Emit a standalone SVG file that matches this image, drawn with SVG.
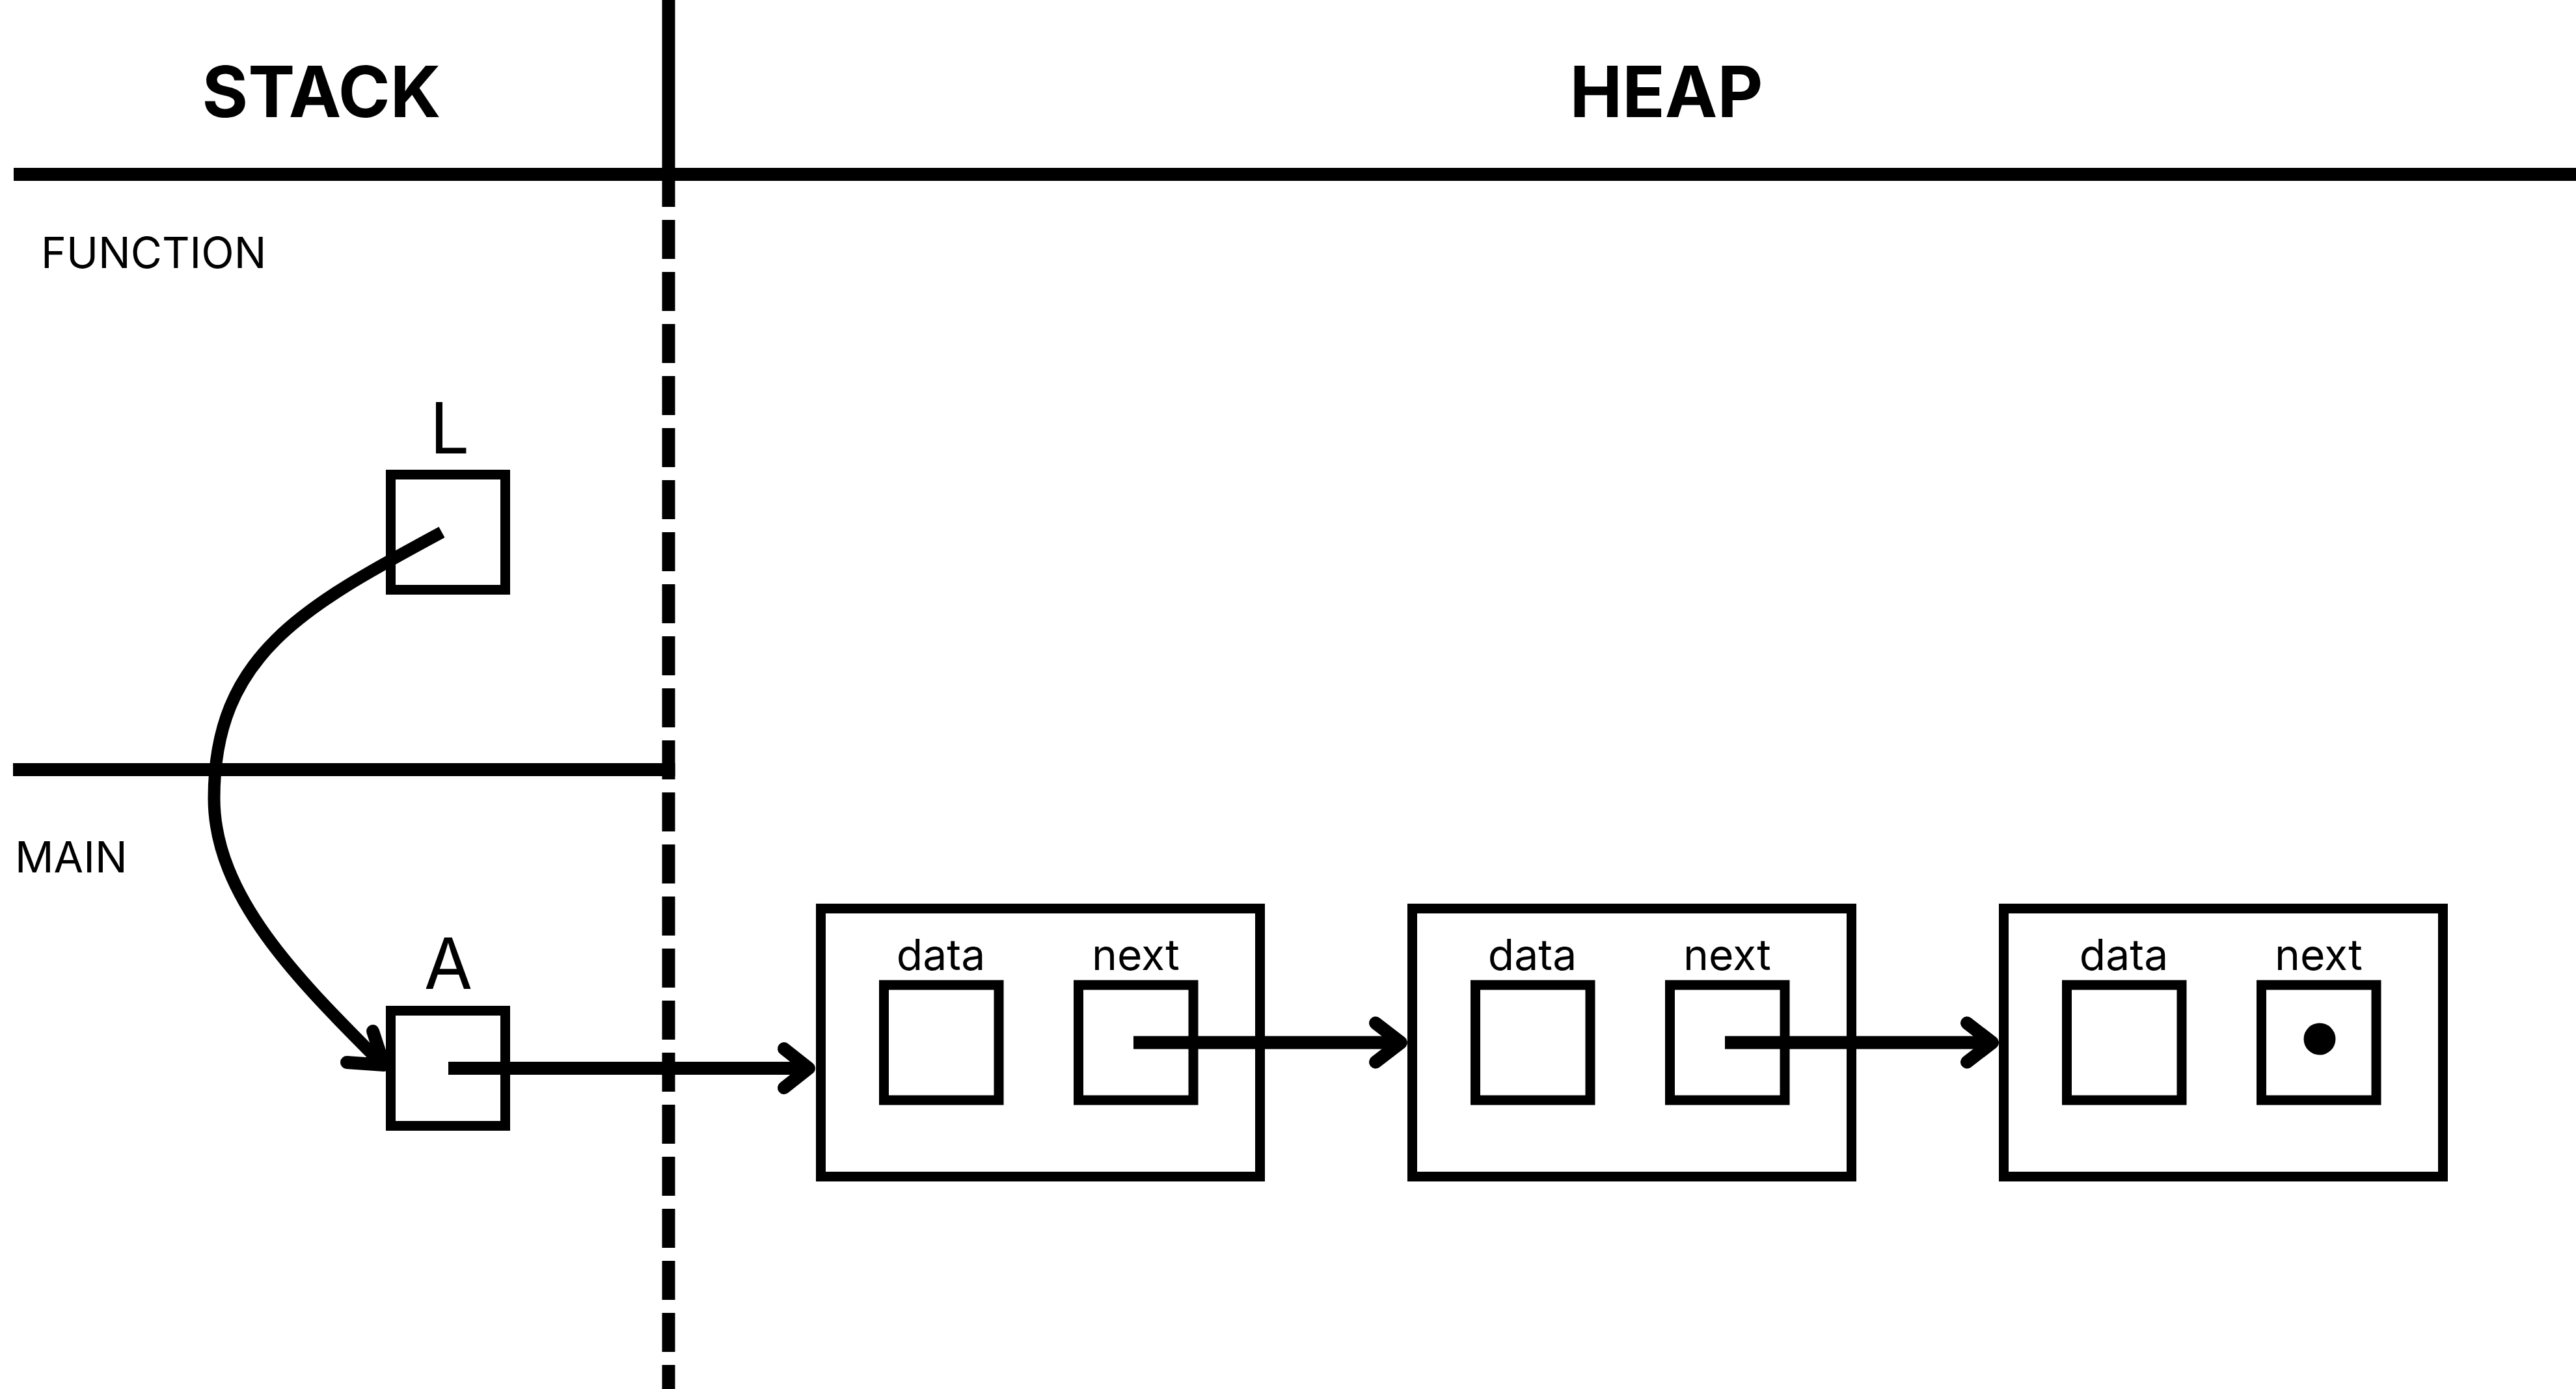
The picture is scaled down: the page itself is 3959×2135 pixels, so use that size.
<svg xmlns="http://www.w3.org/2000/svg" width="3959" height="2135" viewBox="0 0 3959 2135">
  <style>
    .hdr { font-family: Inter, "Liberation Sans", sans-serif; font-weight: 700; font-size: 108px; fill: #000; text-anchor: middle; }
    .sec { font-family: Inter, "Liberation Sans", sans-serif; font-size: 66px; fill: #000; }
    .var { font-family: Inter, "Liberation Sans", sans-serif; font-size: 108px; fill: #000; text-anchor: middle; }
    .fld { font-family: Inter, "Liberation Sans", sans-serif; font-size: 66px; fill: #000; text-anchor: middle; }
    .box { fill: none; stroke: #000; stroke-width: 15; }
    .div { stroke: #000; stroke-width: 20; fill: none; }
    .link { stroke: #000; stroke-width: 20; fill: none; }
    .head { stroke: #000; stroke-width: 20; fill: none; stroke-linecap: round; stroke-linejoin: round; }
  </style>
  <rect width="3959" height="2135" fill="#fff"/>

  <g id="layout">
    <line class="div" x1="21" y1="268" x2="3959" y2="268"/>
    <line class="div" x1="1027.5" y1="0" x2="1027.5" y2="268"/>
    <line class="div" x1="1027.5" y1="258" x2="1027.5" y2="2135" stroke-dasharray="60 20"/>
    <line class="div" x1="20" y1="1183" x2="1037.5" y2="1183"/>
    <text class="hdr" x="494" y="180">STACK</text>
    <text class="hdr" x="2561" y="180">HEAP</text>
    <text class="sec" x="63" y="412">FUNCTION</text>
    <text class="sec" x="23" y="1341">MAIN</text>
  </g>

  <g id="var-L">
    <text class="var" x="691" y="697">L</text>
    <rect class="box" x="600.5" y="729.5" width="176" height="177"/>
  </g>

  <g id="var-A">
    <text class="var" x="689" y="1520">A</text>
    <rect class="box" x="600.5" y="1553.5" width="176" height="177"/>
  </g>

  <g id="node1" transform="translate(1254,0)">
    <rect class="box" x="7.5" y="1396.5" width="675" height="412"/>
    <text class="fld" x="192" y="1491">data</text>
    <rect class="box" x="104.5" y="1514" width="176.5" height="177"/>
    <text class="fld" x="491.5" y="1491">next</text>
    <rect class="box" x="403.5" y="1514" width="176.5" height="177"/>
  </g>

  <g id="node2" transform="translate(2163,0)">
    <rect class="box" x="7.5" y="1396.5" width="675" height="412"/>
    <text class="fld" x="192" y="1491">data</text>
    <rect class="box" x="104.5" y="1514" width="176.5" height="177"/>
    <text class="fld" x="491.5" y="1491">next</text>
    <rect class="box" x="403.5" y="1514" width="176.5" height="177"/>
  </g>

  <g id="node3" transform="translate(3072,0)">
    <rect class="box" x="7.5" y="1396.5" width="675" height="412"/>
    <text class="fld" x="192" y="1491">data</text>
    <rect class="box" x="104.5" y="1514" width="176.5" height="177"/>
    <text class="fld" x="491.5" y="1491">next</text>
    <rect class="box" x="403.5" y="1514" width="176.5" height="177"/>
    <circle cx="493" cy="1597" r="24.5" fill="#000"/>
  </g>

  <g id="connectors">
    <path d="M679 818 C466 933 329 1007 329 1227 C329 1377 458 1506 585 1633" fill="none" stroke="#000" stroke-width="19"/>
    <path class="head" d="M573 1585 L590 1637 L533 1633"/>
    <line class="link" x1="689" y1="1642" x2="1238" y2="1642"/>
    <path class="head" d="M1205 1612 L1243 1642 L1205 1672"/>
    <line class="link" x1="1742" y1="1602.5" x2="2148" y2="1602.5"/>
    <path class="head" d="M2114 1572.5 L2153 1602.5 L2114 1632.5"/>
    <line class="link" x1="2651" y1="1602.5" x2="3057" y2="1602.5"/>
    <path class="head" d="M3023 1572.5 L3062 1602.5 L3023 1632.5"/>
  </g>
</svg>
